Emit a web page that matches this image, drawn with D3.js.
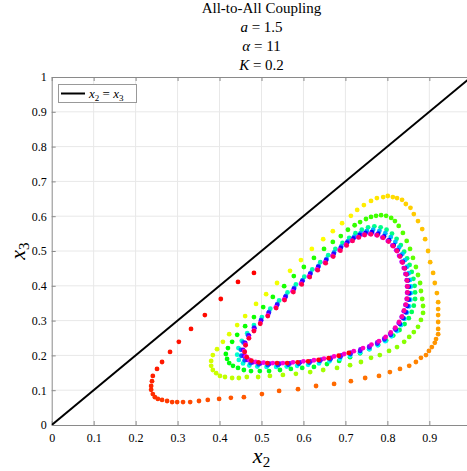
<!DOCTYPE html>
<html>
<head>
<meta charset="utf-8">
<script src="https://cdn.jsdelivr.net/npm/d3@7"></script>
<style>
  body { margin: 0; background: #fff; }
  svg { display: block; }
  text { font-family: "Liberation Serif", "Times New Roman", serif; fill: #000; }
</style>
</head>
<body>
<svg id="chart" width="467" height="471" font-family="Liberation Serif, serif"></svg>
<script>
// Trajectory of (x2, x3), in time order, split into successive passes round the cycle.
const x2Pass1 = [0.482,0.444,0.403,0.365,0.332,0.303,0.282,0.263,0.251,0.241,0.239,0.237,0.237,0.241,0.246,0.253,0.263,0.275,0.287,0.299,0.313,0.330,0.351,0.372,0.399,0.427,0.458,0.501,0.542,0.587,0.630,0.673,0.713,0.747,0.780,0.806,0.830,0.852,0.868,0.880,0.892,0.899,0.906,0.913,0.916,0.921,0.921,0.921,0.921,0.921,0.921,0.918,0.913,0.909,0.902,0.897,0.890,0.883,0.873,0.863,0.855,0.844,0.835,0.823,0.813,0.801,0.790,0.775,0.761,0.744,0.728,0.713,0.692,0.670,0.647,0.620,0.594,0.568,0.537,0.511,0.487,0.461,0.442,0.423,0.408,0.394,0.384,0.380,0.380,0.384,0.392,0.401,0.413,0.430,0.446,0.465];
const x3Pass1 = [0.437,0.411,0.362,0.316,0.276,0.239,0.210,0.181,0.161,0.141,0.126,0.112,0.101,0.089,0.080,0.075,0.072,0.069,0.066,0.066,0.066,0.066,0.069,0.072,0.075,0.078,0.080,0.089,0.098,0.103,0.112,0.118,0.126,0.135,0.141,0.152,0.161,0.170,0.181,0.193,0.201,0.213,0.224,0.236,0.247,0.261,0.276,0.296,0.316,0.333,0.353,0.379,0.408,0.437,0.468,0.500,0.534,0.563,0.586,0.606,0.624,0.635,0.647,0.652,0.655,0.658,0.655,0.652,0.644,0.632,0.618,0.601,0.580,0.557,0.534,0.506,0.474,0.443,0.408,0.376,0.348,0.313,0.287,0.261,0.239,0.218,0.201,0.184,0.170,0.158,0.149,0.141,0.138,0.135,0.135,0.138];

const x2Pass2 = [0.492,0.520,0.551,0.582,0.616,0.647,0.680,0.711,0.737,0.761,0.782,0.804,0.823,0.840,0.852,0.863,0.873,0.880,0.885,0.885,0.883,0.880,0.878,0.873,0.868,0.861,0.854,0.846,0.837,0.827,0.818,0.809,0.797,0.785,0.773,0.761,0.749,0.735,0.722,0.706,0.689,0.670,0.649,0.625,0.601,0.577,0.554,0.527,0.504,0.482,0.461,0.442,0.430,0.420,0.415,0.418,0.423,0.432,0.444,0.458,0.475,0.496,0.518,0.544,0.570,0.597,0.625,0.656,0.685,0.711];
const x3Pass2 = [0.138,0.141,0.144,0.147,0.152,0.158,0.164,0.172,0.181,0.193,0.201,0.213,0.224,0.239,0.253,0.267,0.282,0.302,0.322,0.342,0.362,0.385,0.408,0.431,0.454,0.480,0.506,0.529,0.552,0.572,0.586,0.595,0.601,0.603,0.601,0.598,0.592,0.583,0.574,0.561,0.543,0.526,0.506,0.480,0.454,0.428,0.399,0.368,0.339,0.310,0.284,0.259,0.239,0.221,0.204,0.190,0.178,0.170,0.164,0.158,0.155,0.155,0.155,0.158,0.161,0.164,0.167,0.175,0.184,0.195];

const x2Pass3 = [0.735,0.757,0.778,0.797,0.814,0.829,0.841,0.851,0.858,0.863,0.866,0.866,0.865,0.862,0.858,0.853,0.847,0.840,0.832,0.822,0.811,0.798,0.784,0.769,0.754,0.739,0.724,0.709,0.693,0.676,0.659,0.640,0.621,0.602,0.582,0.562,0.542,0.521,0.501,0.482,0.466,0.453,0.445,0.442,0.446,0.456,0.471,0.490,0.512,0.535,0.560,0.585,0.611,0.637,0.662,0.687,0.711,0.735,0.757,0.777,0.795,0.810,0.823,0.833];
const x3Pass3 = [0.206,0.218,0.230,0.243,0.257,0.273,0.290,0.307,0.325,0.343,0.362,0.381,0.400,0.420,0.440,0.460,0.479,0.498,0.517,0.535,0.550,0.561,0.568,0.571,0.568,0.561,0.551,0.538,0.523,0.506,0.488,0.468,0.447,0.426,0.404,0.381,0.358,0.334,0.310,0.287,0.264,0.242,0.221,0.202,0.187,0.177,0.171,0.168,0.167,0.167,0.168,0.170,0.173,0.177,0.183,0.190,0.199,0.208,0.218,0.229,0.241,0.255,0.270,0.287];

const x2Pass4 = [0.841,0.847,0.852,0.855,0.856,0.856,0.854,0.851,0.847,0.842,0.836,0.828,0.819,0.808,0.795,0.781,0.766,0.751,0.736,0.721,0.706,0.690,0.673,0.655,0.636,0.617,0.598,0.578,0.558,0.538,0.518,0.499,0.482,0.468,0.457,0.451,0.452,0.460,0.474,0.493,0.515,0.539,0.564,0.589,0.614,0.639,0.664,0.688,0.712,0.735,0.757,0.776,0.793,0.808,0.820];
const x3Pass4 = [0.305,0.323,0.341,0.360,0.379,0.398,0.417,0.436,0.455,0.474,0.492,0.510,0.526,0.540,0.551,0.558,0.561,0.558,0.551,0.541,0.528,0.513,0.496,0.477,0.457,0.437,0.416,0.394,0.371,0.348,0.325,0.302,0.280,0.258,0.237,0.216,0.199,0.186,0.178,0.174,0.172,0.172,0.173,0.176,0.179,0.184,0.189,0.196,0.204,0.213,0.223,0.234,0.246,0.259,0.274];

const x2Pass5 = [0.830,0.838,0.844,0.848,0.851,0.852,0.851,0.849,0.846,0.842,0.837,0.831,0.824,0.815,0.804,0.792,0.778,0.763,0.748,0.734,0.719,0.704,0.689,0.672,0.654,0.635,0.616,0.597,0.577,0.557,0.537,0.517,0.499,0.483,0.470,0.461,0.456,0.458,0.466,0.479,0.497,0.519,0.543,0.567,0.592,0.617,0.642,0.666,0.690,0.713,0.736,0.757,0.776,0.793,0.807];
const x3Pass5 = [0.290,0.307,0.324,0.342,0.360,0.378,0.397,0.415,0.433,0.451,0.469,0.486,0.502,0.517,0.531,0.542,0.550,0.554,0.552,0.546,0.536,0.524,0.509,0.492,0.474,0.454,0.434,0.413,0.391,0.368,0.345,0.322,0.300,0.278,0.257,0.236,0.216,0.199,0.187,0.180,0.177,0.176,0.176,0.177,0.180,0.183,0.188,0.193,0.200,0.208,0.217,0.226,0.237,0.249,0.262];

const x2Pass6 = [0.818,0.827,0.834,0.839,0.843,0.846,0.847,0.847,0.846,0.843,0.839,0.834,0.828,0.821,0.812,0.801,0.788,0.774,0.759,0.744,0.730,0.715,0.701,0.686,0.669,0.651,0.632,0.613,0.594,0.574,0.554,0.534,0.515,0.497,0.482,0.470,0.462,0.459,0.462,0.471,0.486,0.505,0.527,0.551,0.575,0.600,0.625,0.649,0.673,0.697,0.720,0.742,0.762,0.780,0.796];
const x3Pass6 = [0.277,0.293,0.310,0.327,0.345,0.362,0.380,0.398,0.416,0.434,0.451,0.469,0.486,0.502,0.516,0.529,0.539,0.546,0.549,0.547,0.540,0.530,0.518,0.503,0.486,0.467,0.447,0.427,0.406,0.384,0.361,0.338,0.315,0.293,0.272,0.251,0.231,0.212,0.197,0.187,0.181,0.179,0.178,0.178,0.180,0.183,0.186,0.191,0.197,0.204,0.212,0.221,0.231,0.241,0.253];

const x2Pass7 = [0.808,0.819,0.828,0.835,0.840,0.844,0.847,0.848,0.848,0.847,0.845,0.841,0.836,0.830,0.823,0.814,0.803,0.790,0.776,0.761,0.746,0.732,0.717,0.703,0.688,0.671,0.653,0.634,0.615,0.596,0.576,0.555,0.535,0.515,0.497,0.482,0.470,0.462,0.460,0.465,0.476,0.493,0.514,0.537,0.561,0.586,0.611,0.636,0.660,0.684,0.708];
const x3Pass7 = [0.266,0.280,0.296,0.312,0.329,0.346,0.363,0.381,0.398,0.415,0.433,0.450,0.467,0.484,0.500,0.514,0.527,0.538,0.545,0.548,0.546,0.539,0.529,0.516,0.501,0.484,0.465,0.445,0.425,0.404,0.382,0.359,0.336,0.313,0.291,0.270,0.249,0.229,0.210,0.195,0.185,0.180,0.178,0.178,0.178,0.180,0.183,0.187,0.192,0.199,0.207];

const tickValues = [0, 0.1, 0.2, 0.3, 0.4, 0.5, 0.6, 0.7, 0.8, 0.9, 1];
const xTickLabels = ["0", "0.1", "0.2", "0.3", "0.4", "0.5", "0.6", "0.7", "0.8", "0.9", ""];
const yTickLabels = ["0", "0.1", "0.2", "0.3", "0.4", "0.5", "0.6", "0.7", "0.8", "0.9", "1"];
const identityLine = [0, 1];

const x2All = [].concat(x2Pass1, x2Pass2, x2Pass3, x2Pass4, x2Pass5, x2Pass6, x2Pass7);
const x3All = [].concat(x3Pass1, x3Pass2, x3Pass3, x3Pass4, x3Pass5, x3Pass6, x3Pass7);
const points = x2All.map((v, i) => ({ x2: v, x3: x3All[i], t: i }));
const N = points.length;

const svg = d3.select("#chart");
const pLeft = 51.7, pRight = 471.3, pTop = 77, pBottom = 425;

const x = d3.scaleLinear().domain([0, 1]).range([pLeft, pRight]);
const y = d3.scaleLinear().domain([0, 1]).range([pBottom, pTop]);
// hsv colour map over the time index
const color = d3.scaleSequential(t => d3.hsl(360 * t, 1, 0.5).toString()).domain([0, N]);

svg.append("defs").append("clipPath").attr("id", "plotClip")
  .append("rect").attr("x", pLeft).attr("y", pTop).attr("width", pRight - pLeft).attr("height", pBottom - pTop);

// grid
const grid = svg.append("g");
grid.selectAll("line.gx").data(tickValues.slice(1, -1)).join("line")
  .attr("class", "gx")
  .attr("x1", d => x(d)).attr("x2", d => x(d)).attr("y1", pTop).attr("y2", pBottom)
  .attr("stroke", "#e8e8e8").attr("stroke-width", 1);
grid.selectAll("line.gy").data(tickValues.slice(1, -1)).join("line")
  .attr("class", "gy")
  .attr("y1", d => y(d)).attr("y2", d => y(d)).attr("x1", pLeft).attr("x2", pRight)
  .attr("stroke", "#e8e8e8").attr("stroke-width", 1);

// axes (ticks point inward, box on)
const axisColor = "#8a8a8a";
const xAxis = svg.append("g").attr("transform", `translate(0,${pBottom})`)
  .call(d3.axisBottom(x).tickValues(tickValues).tickFormat((d, i) => xTickLabels[i]).tickSizeInner(-4).tickSizeOuter(0).tickPadding(8));
const xTop = svg.append("g").attr("transform", `translate(0,${pTop})`)
  .call(d3.axisTop(x).tickValues(tickValues).tickFormat("").tickSizeInner(-4).tickSizeOuter(0));
const yAxis = svg.append("g").attr("transform", `translate(${pLeft},0)`)
  .call(d3.axisLeft(y).tickValues(tickValues).tickFormat((d, i) => yTickLabels[i]).tickSizeInner(-4).tickSizeOuter(0).tickPadding(5));
[xAxis, xTop, yAxis].forEach(g => {
  g.attr("font-family", "Liberation Serif, serif");
  g.select(".domain").attr("stroke", axisColor).attr("stroke-width", 1);
  g.selectAll(".tick line").attr("stroke", axisColor);
  g.selectAll(".tick text").attr("font-size", 12).attr("fill", "#000");
});

// identity line x2 = x3
const plot = svg.append("g").attr("clip-path", "url(#plotClip)");
plot.append("line")
  .attr("x1", x(identityLine[0])).attr("y1", y(identityLine[0]))
  .attr("x2", x(identityLine[1])).attr("y2", y(identityLine[1]))
  .attr("stroke", "#000").attr("stroke-width", 2);

// trajectory samples coloured by time
plot.append("g").selectAll("circle").data(points).join("circle")
  .attr("cx", d => x(d.x2)).attr("cy", d => y(d.x3)).attr("r", 2.4)
  .attr("fill", d => color(d.t));

// legend
const lg = svg.append("g");
lg.append("rect").attr("x", 58.5).attr("y", 84.5).attr("width", 78).attr("height", 18)
  .attr("fill", "#fff").attr("stroke", "#999").attr("stroke-width", 1);
lg.append("line").attr("x1", 61).attr("x2", 85).attr("y1", 93.5).attr("y2", 93.5)
  .attr("stroke", "#000").attr("stroke-width", 2);
const lt = lg.append("text").attr("x", 89).attr("y", 98).attr("font-size", 13);
lt.append("tspan").attr("font-style", "italic").text("x");
lt.append("tspan").attr("font-size", 9).attr("dy", 3).text("2");
lt.append("tspan").attr("dy", -3).text(" = ");
lt.append("tspan").attr("font-style", "italic").text("x");
lt.append("tspan").attr("font-size", 9).attr("dy", 3).text("3");

// title
const cx = (pLeft + pRight) / 2;
const title = svg.append("g").attr("text-anchor", "middle").attr("font-size", 15);
title.append("text").attr("x", cx).attr("y", 13).text("All-to-All Coupling");
const t2 = title.append("text").attr("x", cx).attr("y", 32);
t2.append("tspan").attr("font-style", "italic").text("a");
t2.append("tspan").text(" = 1.5");
const t3 = title.append("text").attr("x", cx).attr("y", 51);
t3.append("tspan").attr("font-style", "italic").text("α");
t3.append("tspan").text(" = 11");
const t4 = title.append("text").attr("x", cx).attr("y", 70);
t4.append("tspan").attr("font-style", "italic").text("K");
t4.append("tspan").text(" = 0.2");

// axis labels
const xl = svg.append("text").attr("x", cx).attr("y", 463).attr("text-anchor", "middle").attr("font-size", 22);
xl.append("tspan").attr("font-style", "italic").text("x");
xl.append("tspan").attr("font-size", 15).attr("dy", 4).text("2");
const yl = svg.append("text").attr("transform", `translate(25,${(pTop + pBottom) / 2}) rotate(-90)`)
  .attr("text-anchor", "middle").attr("font-size", 22);
yl.append("tspan").attr("font-style", "italic").text("x");
yl.append("tspan").attr("font-size", 15).attr("dy", 4).text("3");
</script>
</body>
</html>
